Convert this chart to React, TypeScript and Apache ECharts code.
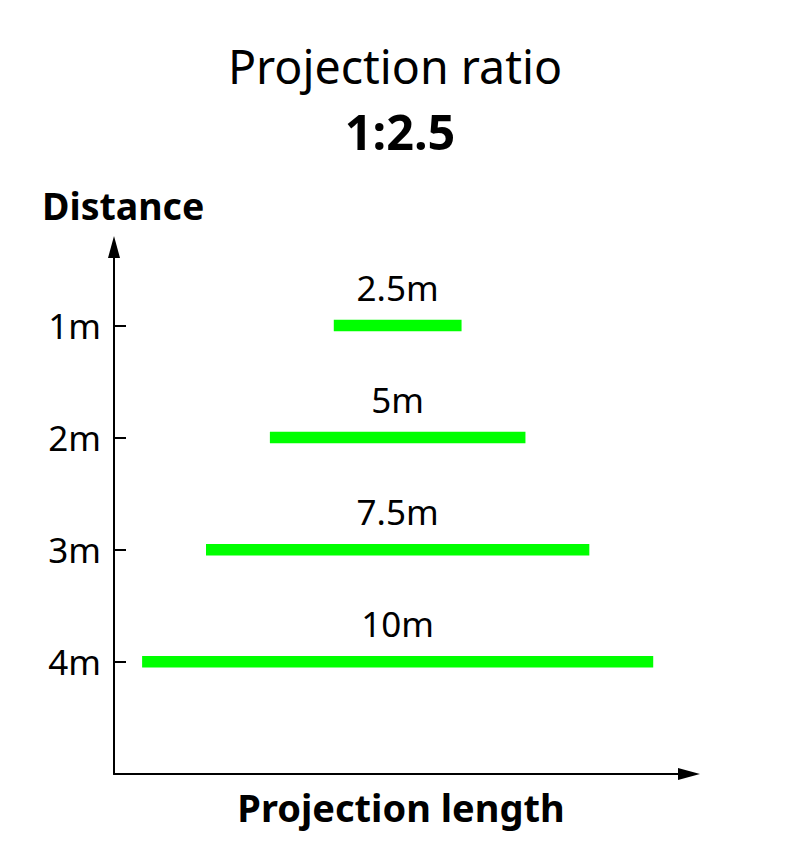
import React, { useEffect, useRef } from "react";
import * as echarts from "echarts";

// Throw distance (m) and the resulting projection width (m) at ratio 1:2.5
const distances = [1, 2, 3, 4];
const projectionLengths = [2.5, 5, 7.5, 10];
const distanceLabels = ["1m", "2m", "3m", "4m"];

const titleText = "Projection ratio";
const ratioText = "1:2.5";
const yName = "Distance";
const xName = "Projection length";

const FONT = "'Noto Sans', 'DejaVu Sans', sans-serif";
const GREEN = "#00ff00";
const INK = "#000000";

export default function App() {
  const ref = useRef<HTMLDivElement>(null);

  useEffect(() => {
    if (!ref.current) return;
    const chart = echarts.init(ref.current, undefined, { renderer: "svg" });

    const data = distances.map((d, i) => [projectionLengths[i], d]);

    chart.setOption({
      animation: false,
      backgroundColor: "#ffffff",
      grid: {
        left: 114,
        right: 111,
        top: 247,
        bottom: 88,
        containLabel: false,
        outerBoundsMode: "none",
      },
      xAxis: {
        type: "value",
        min: -5.55,
        max: 5.7,
        axisLine: {
          show: true,
          onZero: false,
          symbol: ["none", "triangle"],
          symbolSize: [12, 22],
          lineStyle: { color: INK, width: 2 },
        },
        axisTick: { show: false },
        axisLabel: { show: false },
        splitLine: { show: false },
      },
      yAxis: {
        type: "value",
        inverse: true,
        min: 0.3,
        max: 5,
        axisLine: {
          show: true,
          onZero: false,
          symbol: ["none", "triangle"],
          symbolSize: [12, 22],
          lineStyle: { color: INK, width: 2 },
        },
        axisTick: {
          show: true,
          inside: true,
          length: 12,
          customValues: distances,
          lineStyle: { color: INK, width: 2 },
        },
        axisLabel: {
          show: true,
          customValues: distances,
          margin: 13,
          color: INK,
          fontSize: 35,
          fontFamily: FONT,
          formatter: (v: number) => distanceLabels[distances.indexOf(v)] ?? `${v}m`,
        },
        splitLine: { show: false },
      },
      series: [
        {
          type: "custom",
          clip: false,
          data,
          renderItem: (_params: any, api: any) => {
            const len = api.value(0);
            const d = api.value(1);
            const a = api.coord([-len / 2, d]);
            const b = api.coord([len / 2, d]);
            const h = 11.5;
            return {
              type: "group",
              children: [
                {
                  type: "rect",
                  shape: { x: a[0], y: a[1] - h / 2, width: b[0] - a[0], height: h },
                  style: { fill: GREEN },
                },
                {
                  type: "text",
                  x: (a[0] + b[0]) / 2,
                  y: a[1] - 38,
                  style: {
                    text: `${len}m`,
                    fill: INK,
                    fontSize: 35,
                    fontFamily: FONT,
                    align: "center",
                    verticalAlign: "middle",
                  },
                },
              ],
            };
          },
        },
      ],
      graphic: [
        {
          type: "text",
          x: 395,
          y: 66,
          style: {
            text: titleText,
            fill: INK,
            fontSize: 46.5,
            fontFamily: FONT,
            align: "center",
            verticalAlign: "middle",
          },
        },
        {
          type: "text",
          x: 400,
          y: 131,
          style: {
            text: ratioText,
            fill: INK,
            fontSize: 48.5,
            fontWeight: "bold",
            fontFamily: FONT,
            align: "center",
            verticalAlign: "middle",
          },
        },
        {
          type: "text",
          x: 42,
          y: 205,
          style: {
            text: yName,
            fill: INK,
            fontSize: 37.5,
            fontWeight: "bold",
            fontFamily: FONT,
            align: "left",
            verticalAlign: "middle",
          },
        },
        {
          type: "text",
          x: 401,
          y: 807,
          style: {
            text: xName,
            fill: INK,
            fontSize: 38,
            fontWeight: "bold",
            fontFamily: FONT,
            align: "center",
            verticalAlign: "middle",
          },
        },
      ],
    });

    return () => chart.dispose();
  }, []);

  return (
    <div
      ref={ref}
      style={{ position: "fixed", left: 0, top: 0, width: 800, height: 862 }}
    />
  );
}
